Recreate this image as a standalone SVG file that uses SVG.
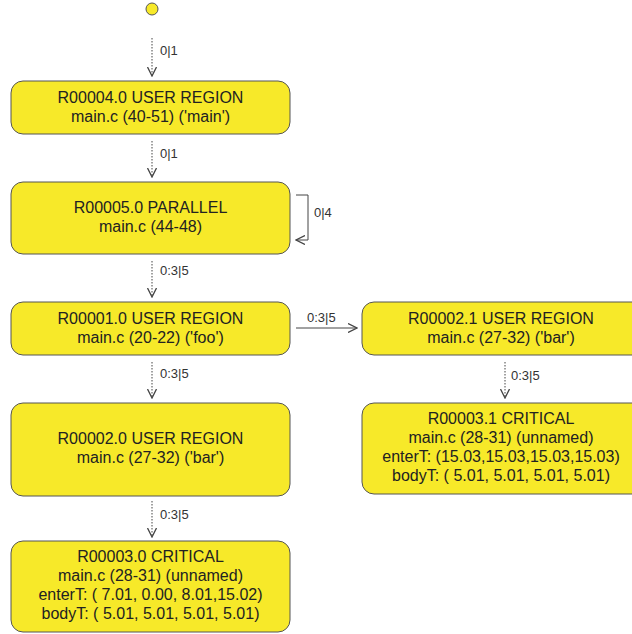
<svg xmlns="http://www.w3.org/2000/svg" width="632" height="634" viewBox="0 0 632 634">
<style>
.n{fill:#f7e929;stroke:#555;stroke-width:1}
.t{font-family:"Liberation Sans",Arial,sans-serif;font-size:16px;fill:#222;text-anchor:middle}
.l{font-family:"Liberation Sans",Arial,sans-serif;font-size:13px;fill:#333}
.e{fill:none;stroke:#444;stroke-width:1}
.d{stroke-dasharray:1.5,1.5}
</style>
<defs>
<marker id="a" viewBox="0 0 10 10" refX="9" refY="5" markerWidth="10" markerHeight="10" markerUnits="userSpaceOnUse" orient="auto">
<path d="M0,0.5 L9,5 L0,9.5" fill="none" stroke="#444" stroke-width="1.3"/>
</marker>
</defs>
<rect width="632" height="634" fill="#fff"/>
<g id="start"><circle cx="152" cy="9" r="6" class="n"/></g>
<g id="edges">
<path class="e d" d="M152,38 V76" marker-end="url(#a)"/>
<text class="l" x="160" y="55">0|1</text>
<path class="e d" d="M152,141 V177" marker-end="url(#a)"/>
<text class="l" x="160" y="158">0|1</text>
<path class="e" d="M296,195 H308 V240 H296" marker-end="url(#a)"/>
<text class="l" x="314" y="217">0|4</text>
<path class="e d" d="M152,261 V297" marker-end="url(#a)"/>
<text class="l" x="160" y="275">0:3|5</text>
<path class="e" d="M296,328 H357" marker-end="url(#a)"/>
<text class="l" x="307" y="322">0:3|5</text>
<path class="e d" d="M152,362 V398" marker-end="url(#a)"/>
<text class="l" x="160" y="378">0:3|5</text>
<path class="e d" d="M505,362 V398" marker-end="url(#a)"/>
<text class="l" x="511" y="380">0:3|5</text>
<path class="e d" d="M152,501 V537" marker-end="url(#a)"/>
<text class="l" x="160" y="519">0:3|5</text>
</g>
<g id="R00004.0">
<rect class="n" x="11" y="81" width="279" height="53" rx="12"/>
<text class="t" x="150.5" y="103">R00004.0 USER REGION</text>
<text class="t" x="150.5" y="122">main.c (40-51) ('main')</text>
</g>
<g id="R00005.0">
<rect class="n" x="11" y="182" width="279" height="72" rx="12"/>
<text class="t" x="150.5" y="213">R00005.0 PARALLEL</text>
<text class="t" x="150.5" y="232">main.c (44-48)</text>
</g>
<g id="R00001.0">
<rect class="n" x="11" y="302" width="279" height="53" rx="12"/>
<text class="t" x="150.5" y="324">R00001.0 USER REGION</text>
<text class="t" x="150.5" y="343">main.c (20-22) ('foo')</text>
</g>
<g id="R00002.1">
<rect class="n" x="362" y="302" width="286" height="53" rx="12"/>
<text class="t" x="501" y="324">R00002.1 USER REGION</text>
<text class="t" x="501" y="343">main.c (27-32) ('bar')</text>
</g>
<g id="R00002.0">
<rect class="n" x="11" y="403" width="279" height="93" rx="12"/>
<text class="t" x="150.5" y="444">R00002.0 USER REGION</text>
<text class="t" x="150.5" y="463">main.c (27-32) ('bar')</text>
</g>
<g id="R00003.1">
<rect class="n" x="362" y="403" width="286" height="91" rx="12"/>
<text class="t" x="501" y="424">R00003.1 CRITICAL</text>
<text class="t" x="501" y="443">main.c (28-31) (unnamed)</text>
<text class="t" x="501" y="462">enterT: (15.03,15.03,15.03,15.03)</text>
<text class="t" x="501" y="481">bodyT: ( 5.01, 5.01, 5.01, 5.01)</text>
</g>
<g id="R00003.0">
<rect class="n" x="11" y="541" width="279" height="91" rx="12"/>
<text class="t" x="150.5" y="562">R00003.0 CRITICAL</text>
<text class="t" x="150.5" y="581">main.c (28-31) (unnamed)</text>
<text class="t" x="150.5" y="600">enterT: ( 7.01, 0.00, 8.01,15.02)</text>
<text class="t" x="150.5" y="619">bodyT: ( 5.01, 5.01, 5.01, 5.01)</text>
</g>
</svg>
